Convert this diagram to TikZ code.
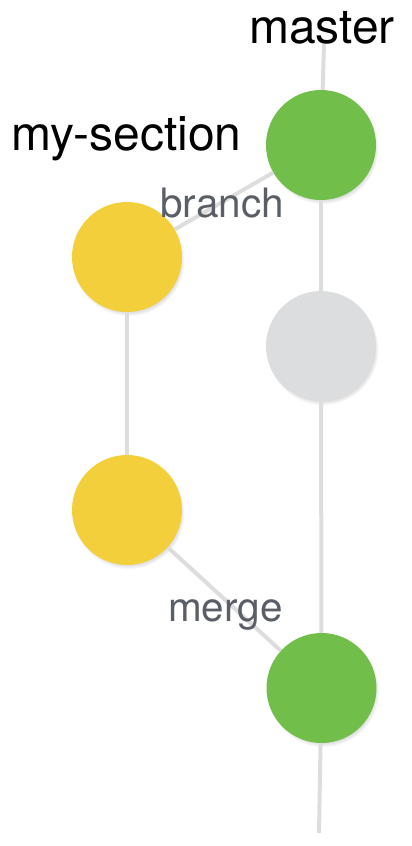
\documentclass[tikz,border=0pt]{standalone}
\usepackage{fontspec}
\setmainfont{TeX Gyre Heros}
\usetikzlibrary{shadows}
\definecolor{cgreen}{HTML}{72BE4A}
\definecolor{cyellow}{HTML}{F3CF3C}
\definecolor{cgray}{HTML}{DCDDDF}
\definecolor{cline}{HTML}{DDDDDD}
\definecolor{ctext}{HTML}{5A5E66}
\begin{document}
\begin{tikzpicture}[x=1pt,y=-1pt,
  commit/.style={circle,minimum size=110pt,inner sep=0pt,
    circular drop shadow={shadow xshift=1.5pt,shadow yshift=-3pt,shadow scale=1.02,opacity=0.45}},
  edge/.style={draw=cline,line width=4pt},
  biglabel/.style={font=\fontsize{48}{50}\selectfont,text=black,inner sep=0pt},
  smalllabel/.style={font=\fontsize{40.5}{42}\selectfont,text=ctext,inner sep=0pt}]
\useasboundingbox (0,0) rectangle (412,846);
\coordinate (top) at (324,44);
\coordinate (bot) at (319,833);
\node[commit,fill=cgreen] (m1) at (321,145) {};
\node[commit,fill=cyellow] (y1) at (127,257) {};
\node[commit,fill=cgray] (g) at (321,346) {};
\node[commit,fill=cyellow] (y2) at (127,510) {};
\node[commit,fill=cgreen] (m2) at (321.5,688) {};
\draw[edge] (top) -- (m1);
\draw[edge] (m1) -- (g);
\draw[edge] (g) -- (m2);
\draw[edge] (m2) -- (bot);
\draw[edge] (m1) -- (y1);
\draw[edge] (y1) -- (y2);
\draw[edge] (y2) -- (m2);
\node[biglabel,anchor=base] (tmaster) at (322,43) {master};
\node[biglabel,anchor=base west] (tsec) at (11,150) {my-section};
\node[smalllabel,anchor=base west] (tbranch) at (160,217) {branch};
\node[smalllabel,anchor=base west] (tmerge) at (168,621) {merge};
\end{tikzpicture}
\end{document}
